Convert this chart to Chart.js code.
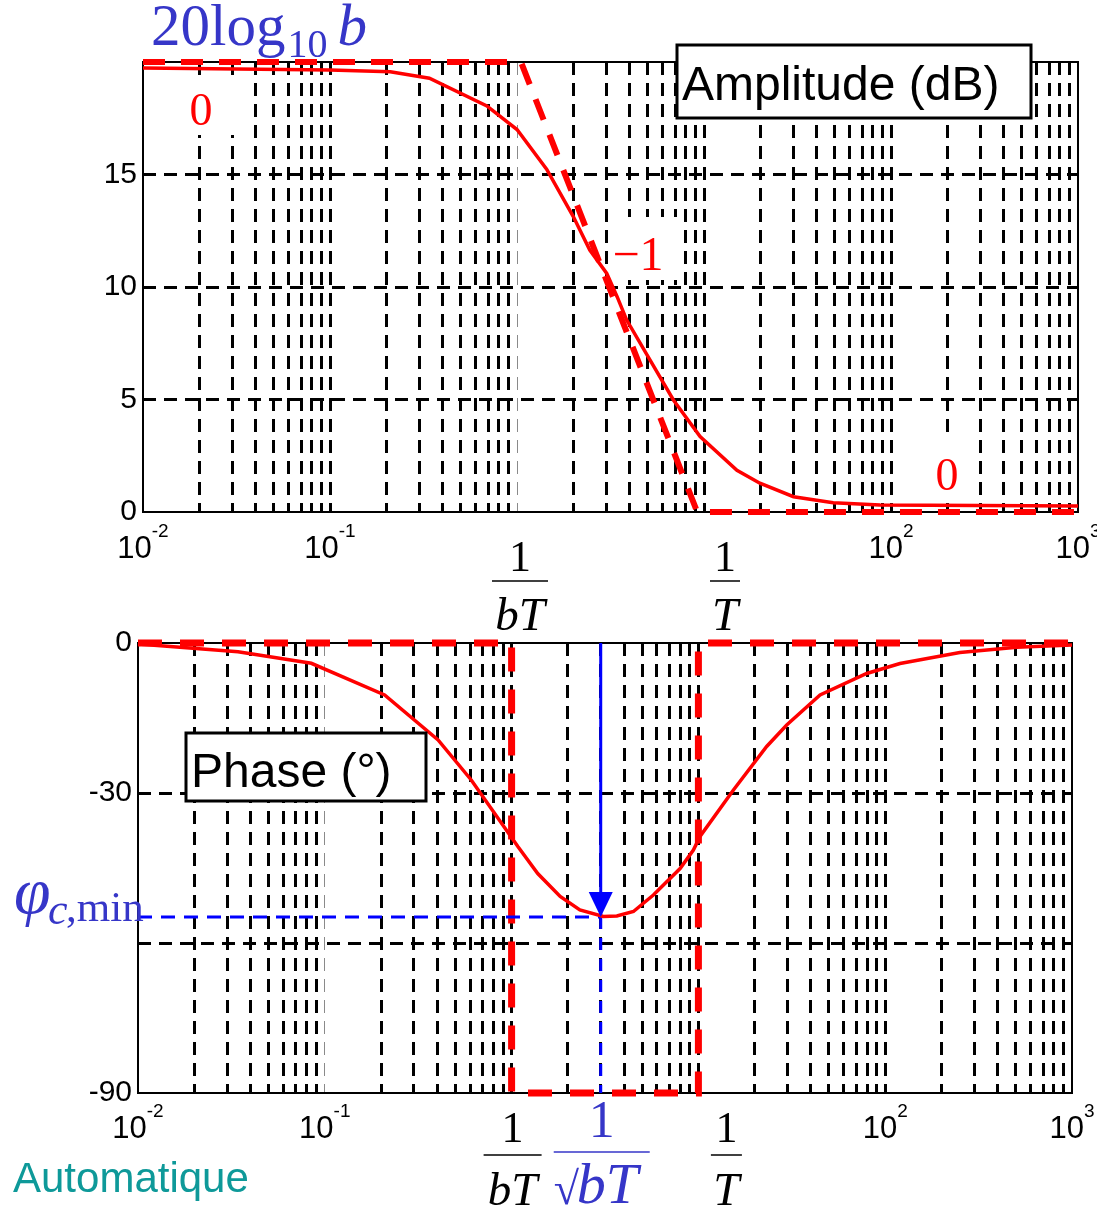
<!DOCTYPE html>
<html>
<head>
<meta charset="utf-8">
<script src="https://cdn.jsdelivr.net/npm/chart.js@4.4.0/dist/chart.umd.min.js"></script>
<style>
  body { margin: 0; background: #fff; width: 1097px; height: 1208px; position: relative; overflow: hidden; }
  #gainChart { position: absolute; left: 0; top: 0; }
  #phaseChart { position: absolute; left: 0; top: 600px; }
  #footer { position: absolute; left: 13px; top: 1157px; font: 42px/42px "Liberation Sans", Arial, sans-serif; color: #0e9999; }
</style>
</head>
<body>
<canvas id="gainChart" width="1097" height="640"></canvas>
<canvas id="phaseChart" width="1097" height="608"></canvas>
<div id="footer">Automatique</div>
<script>
// Amplitude curve
const gainFreq = [0.01, 0.1, 0.21, 0.34, 0.69, 1.0, 1.44, 2.0, 2.45, 3.02, 3.43, 3.86, 5.14, 6.86, 9.53, 15.0, 19.9, 30.1, 49.1, 87.3, 1000];
const gainDb = [19.73, 19.64, 19.57, 19.28, 18.05, 17.0, 15.24, 13.13, 11.64, 10.6, 9.57, 8.53, 6.76, 4.98, 3.35, 1.85, 1.28, 0.68, 0.41, 0.31, 0.27];
// Asymptotic amplitude
const gainAsymFreq = [0.01, 1.05, 9.2, 1000];
const gainAsymDb = [20, 20, 0, 0];

// Phase curve
const phaseFreq = [0.01, 0.0343, 0.0847, 0.209, 0.404, 0.608, 1.08, 1.38, 1.82, 2.32, 3.10, 3.66, 4.49, 5.74, 7.98, 9.40, 10.2, 15.4, 23.2, 29.7, 44.8, 79.6, 120, 251, 506, 1000];
const phaseDeg = [-0.2, -1.74, -4.06, -10.4, -19.4, -27.4, -40.7, -46.1, -50.7, -53.4, -54.7, -54.6, -53.7, -50.4, -45.1, -41.4, -38.7, -29.4, -20.7, -16.4, -10.4, -6.1, -4.1, -1.9, -0.87, -0.4];
// Asymptotic phase
const phaseAsymFreq = [0.01, 1.0, 1.0, 10, 10, 1000];
const phaseAsymDeg = [0, 0, -90, -90, 0, 0];

// 1/sqrt(bT) and phi_c,min
const omegaMid = 3.0;
const phiMin = -54.8;

// axis ticks
const gainTicks = [0, 5, 10, 15, 20];
const phaseTicks = [-90, -60, -30, 0];
const decadeExps = [-2, -1, 2, 3];

// grid positions 1..9 x 10^n
const gridFreq = [];
for (let e = -2; e <= 2; e++) {
  for (let m = 1; m <= 9; m++) gridFreq.push(+(m * Math.pow(10, e)).toPrecision(3));
}
gridFreq.push(1000);

const SANS = '"Liberation Sans", Arial, sans-serif';
const SERIF = '"Liberation Serif", "Times New Roman", serif';
const RED = '#ff0000';
const BLUE = '#0000ff';
const MATHBLUE = '#3636c8';

Chart.defaults.font.family = SANS;

function zip(xs, ys) {
  return xs.map((x, i) => ({ x: x, y: ys[i] }));
}

function put(ctx, txt, x, y, font, color, align) {
  ctx.save();
  ctx.font = font;
  ctx.fillStyle = color;
  ctx.textAlign = align || 'left';
  ctx.textBaseline = 'alphabetic';
  ctx.fillText(txt, x, y);
  ctx.restore();
}

function textW(ctx, txt, font) {
  ctx.save();
  ctx.font = font;
  const w = ctx.measureText(txt).width;
  ctx.restore();
  return w;
}

function frame(chart) {
  const ctx = chart.ctx, a = chart.chartArea;
  ctx.save();
  ctx.strokeStyle = '#000';
  ctx.lineWidth = 2;
  ctx.strokeRect(a.left, a.top, a.right - a.left, a.bottom - a.top);
  ctx.restore();
}

function whiteBox(ctx, x, y, w, h) {
  ctx.save();
  ctx.fillStyle = '#fff';
  ctx.fillRect(x, y, w, h);
  ctx.restore();
}

function labelBox(ctx, x, y, w, h, txt, tx, ty) {
  ctx.save();
  ctx.fillStyle = '#fff';
  ctx.fillRect(x, y, w, h);
  ctx.strokeStyle = '#000';
  ctx.lineWidth = 3;
  ctx.strokeRect(x, y, w, h);
  ctx.restore();
  put(ctx, txt, tx, ty, '48px ' + SANS, '#000');
}

function decadeLabels(chart, baseY, supY) {
  const ctx = chart.ctx, xs = chart.scales.x;
  decadeExps.forEach(e => {
    const px = xs.getPixelForValue(Math.pow(10, e));
    const w1 = textW(ctx, '10', '31px ' + SANS);
    const w2 = textW(ctx, String(e), '19px ' + SANS);
    const x0 = px - (w1 + w2) / 2;
    put(ctx, '10', x0, baseY, '31px ' + SANS, '#000');
    put(ctx, String(e), x0 + w1, supY, '19px ' + SANS, '#000');
  });
}

function bar(ctx, x1, x2, y, color, width) {
  ctx.save();
  ctx.strokeStyle = color;
  ctx.lineWidth = width;
  ctx.beginPath();
  ctx.moveTo(x1, y);
  ctx.lineTo(x2, y);
  ctx.stroke();
  ctx.restore();
}

// simple fraction 1 / den
function frac(ctx, cx, numY, barY, denY, den, barW) {
  put(ctx, '1', cx, numY, '44px ' + SERIF, '#000', 'center');
  bar(ctx, cx - barW / 2, cx + barW / 2, barY, '#000', 1.5);
  put(ctx, den, cx, denY, 'italic 47px ' + SERIF, '#000', 'center');
}

function gridColor(grey) {
  return c => {
    const v = c.tick ? c.tick.value : null;
    if (v === 0.01 || v === 1000) return 'rgba(0,0,0,0)';
    if (v === grey) return '#8a8a8a';
    return '#000';
  };
}

function gridWidth(grey) {
  return c => (c.tick && c.tick.value === grey ? 1 : 3);
}

function bodeChart(id, cfg) {
  return new Chart(document.getElementById(id), {
    type: 'line',
    data: { datasets: cfg.datasets },
    options: {
      responsive: false,
      animation: false,
      events: [],
      layout: { padding: cfg.padding },
      plugins: { legend: { display: false }, tooltip: { enabled: false } },
      elements: { point: { radius: 0 }, line: { tension: 0 } },
      scales: {
        x: {
          type: 'logarithmic',
          min: 0.01,
          max: 1000,
          afterBuildTicks: s => { s.ticks = gridFreq.map(v => ({ value: v })); },
          afterFit: s => { s.height = cfg.xHeight; },
          ticks: { display: false, autoSkip: false },
          grid: { drawTicks: false, color: gridColor(cfg.greyDecade), lineWidth: gridWidth(cfg.greyDecade) },
          border: { display: false, dash: [13, 8] }
        },
        y: {
          min: cfg.yMin,
          max: cfg.yMax,
          afterBuildTicks: s => { s.ticks = cfg.yTicks.map(v => ({ value: v })); },
          afterFit: s => {
            s.width = cfg.yWidth;
            s.paddingTop = 0;
            s.paddingBottom = 0;
          },
          ticks: {
            autoSkip: false,
            padding: cfg.yPad,
            color: '#000',
            font: { size: 30, family: SANS },
            callback: v => (cfg.yHide.includes(v) ? '' : String(v))
          },
          grid: {
            drawTicks: false,
            lineWidth: 3,
            color: c => (c.tick && (c.tick.value === cfg.yMin || c.tick.value === cfg.yMax) ? 'rgba(0,0,0,0)' : '#000')
          },
          border: { display: false, dash: [13, 8] }
        }
      }
    },
    plugins: [cfg.plugin]
  });
}

// ---------- Amplitude ----------
const gainPlugin = {
  id: 'gainDecor',
  beforeDatasetsDraw(chart) {
    const ctx = chart.ctx;
    whiteBox(ctx, 160, 75, 93, 60);
    whiteBox(ctx, 620, 217, 60, 63);
    whiteBox(ctx, 932, 440, 32, 57);
    frame(chart);
  },
  afterDatasetsDraw(chart) {
    const ctx = chart.ctx, xs = chart.scales.x;
    // asymptote slopes
    put(ctx, '0', 201, 125, '46px ' + SERIF, RED, 'center');
    put(ctx, '\u22121', 638, 270, '48px ' + SERIF, RED, 'center');
    put(ctx, '0', 947, 490, '46px ' + SERIF, RED, 'center');

    // 20 log10 b
    const f1 = '59px ' + SERIF;
    put(ctx, '20log', 151, 45, f1, MATHBLUE);
    const xs1 = 151 + textW(ctx, '20log', f1) + 2;
    put(ctx, '10', xs1, 57, '40px ' + SERIF, MATHBLUE);
    const xb = xs1 + textW(ctx, '10', '40px ' + SERIF) + 10;
    put(ctx, 'b', xb, 45, 'italic 59px ' + SERIF, MATHBLUE);

    labelBox(ctx, 677, 45, 354, 73, 'Amplitude (dB)', 682, 100);

    decadeLabels(chart, 558, 537);
    const p1 = xs.getPixelForValue(1);
    const p10 = xs.getPixelForValue(10);
    frac(ctx, p1 + 3, 571, 581, 630, 'bT', 56);
    frac(ctx, p10 + 21, 571, 581, 630, 'T', 30);
  }
};

bodeChart('gainChart', {
  padding: { left: 0, top: 62, right: 19, bottom: 0 },
  xHeight: 640 - 512,
  yWidth: 143,
  yPad: 6,
  yMin: 0,
  yMax: 20,
  yTicks: gainTicks,
  yHide: [20],
  greyDecade: 1,
  plugin: gainPlugin,
  datasets: [
    {
      data: zip(gainFreq, gainDb),
      borderColor: RED,
      borderWidth: 3.5,
      clip: false
    },
    {
      data: zip(gainAsymFreq, gainAsymDb),
      borderColor: RED,
      borderWidth: 6,
      borderDash: [22, 16],
      clip: false
    }
  ]
});

// ---------- Phase ----------
const phasePlugin = {
  id: 'phaseDecor',
  beforeDatasetsDraw(chart) {
    frame(chart);
  },
  afterDatasetsDraw(chart) {
    const ctx = chart.ctx, xs = chart.scales.x, ys = chart.scales.y;
    // arrow head at the phase minimum
    const tx = xs.getPixelForValue(omegaMid);
    const ty = ys.getPixelForValue(phiMin);
    ctx.save();
    ctx.fillStyle = BLUE;
    ctx.beginPath();
    ctx.moveTo(tx, ty);
    ctx.lineTo(tx - 12, ty - 25);
    ctx.lineTo(tx + 12, ty - 25);
    ctx.closePath();
    ctx.fill();
    ctx.restore();

    labelBox(ctx, 186, 133, 240, 68, 'Phase (\u00b0)', 191, 187);

    // phi c,min
    put(ctx, '\u03c6', 14, 313, 'italic 66px ' + SERIF, MATHBLUE);
    put(ctx, 'c', 48, 324, 'italic 44px ' + SERIF, MATHBLUE);
    put(ctx, ',min', 66, 321, '43px ' + SERIF, MATHBLUE);

    decadeLabels(chart, 538, 517);
    const p1 = xs.getPixelForValue(1);
    const p10 = xs.getPixelForValue(10);
    frac(ctx, p1 + 1, 542, 555, 605, 'bT', 58);
    frac(ctx, p10 + 28, 542, 555, 605, 'T', 31);

    // 1 / sqrt(bT)
    const cx = tx + 1;
    put(ctx, '1', cx, 537, '52px ' + SERIF, MATHBLUE, 'center');
    bar(ctx, cx - 48, cx + 48, 552, MATHBLUE, 1.5);
    put(ctx, '\u221a', cx - 48, 604, '46px ' + SERIF, MATHBLUE);
    put(ctx, 'bT', cx - 25, 603, 'italic 58px ' + SERIF, MATHBLUE);
  }
};

bodeChart('phaseChart', {
  padding: { left: 0, top: 43, right: 25, bottom: 0 },
  xHeight: 608 - 493,
  yWidth: 138,
  yPad: 6,
  yMin: -90,
  yMax: 0,
  yTicks: phaseTicks,
  yHide: [-60],
  greyDecade: 0.1,
  plugin: phasePlugin,
  datasets: [
    {
      data: zip(phaseFreq, phaseDeg),
      borderColor: RED,
      borderWidth: 3.5,
      clip: false
    },
    {
      data: zip([0.01, omegaMid], [phiMin, phiMin]),
      borderColor: BLUE,
      borderWidth: 3,
      borderDash: [14, 9],
      clip: false
    },
    {
      data: zip([omegaMid, omegaMid], [phiMin, -90]),
      borderColor: BLUE,
      borderWidth: 3,
      borderDash: [12, 9],
      clip: false
    },
    {
      data: zip([omegaMid, omegaMid], [0, phiMin]),
      borderColor: BLUE,
      borderWidth: 3,
      clip: false
    },
    {
      data: zip(phaseAsymFreq, phaseAsymDeg),
      borderColor: RED,
      borderWidth: 7,
      borderDash: [24, 18],
      clip: false
    }
  ]
});
</script>
</body>
</html>
